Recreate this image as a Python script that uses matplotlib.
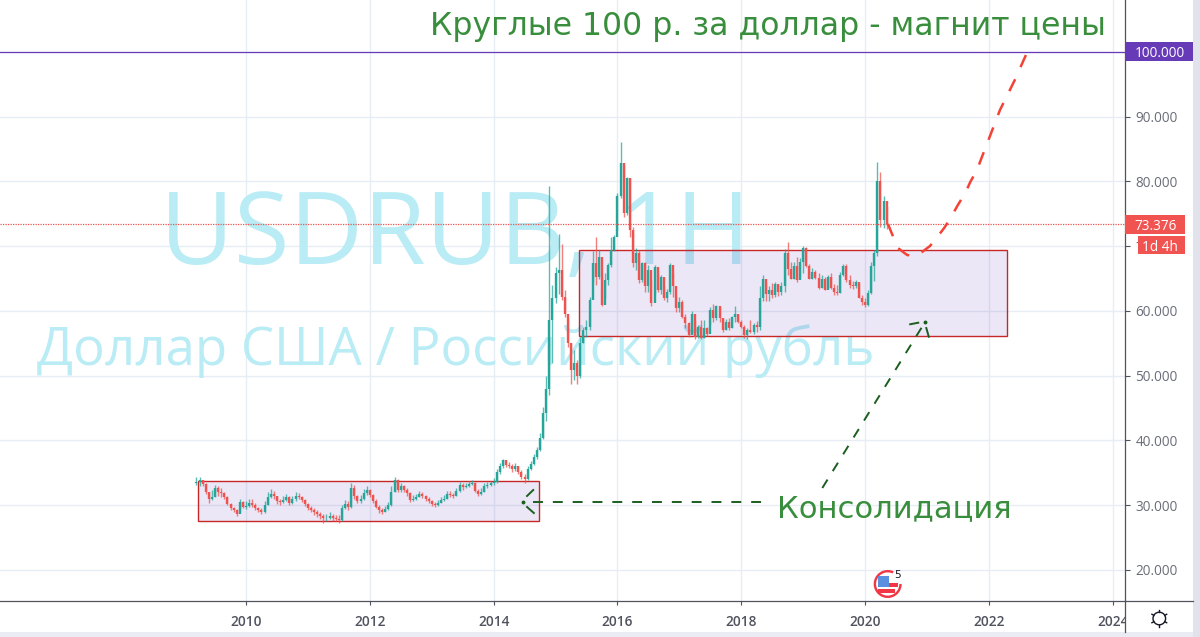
import numpy as np
import matplotlib
matplotlib.use("Agg")
import matplotlib.pyplot as plt
from matplotlib.patches import Rectangle, Circle, Wedge
from matplotlib.lines import Line2D
from matplotlib.transforms import Affine2D, Bbox

# ---------- candles: one close/high/low per period, by calendar year ----------
start_year = 2009.2
period = 0.05
first_open = 33.4
closes = [
 33.6,33.9,33.3,32.0,31.0,31.3,32.6,32.1,31.9,31.3,30.2,29.5,29.2,28.7,30.5,29.8,
 29.9,30.4,30.1,29.6,29.3,29.0,30.1,31.3,31.8,31.4,30.6,30.5,30.8,31.3,30.4,30.9,31.5,31.2,30.8,30.2,
 29.6,29.3,28.9,28.6,28.4,28.0,28.1,28.3,28.0,27.9,27.7,29.6,30.2,29.8,32.6,31.4,30.6,31.0,31.9,32.3,
 31.6,30.6,29.8,29.2,29.0,29.4,30.0,32.1,33.9,32.4,32.9,32.4,31.9,30.8,31.0,31.3,31.8,31.4,31.0,30.6,
 30.2,30.0,30.4,30.8,31.0,31.8,31.6,31.5,32.2,33.1,32.8,33.0,33.3,33.4,32.2,31.8,32.1,32.9,33.1,33.4,
 33.6,35.1,36.0,37.0,36.2,36.0,35.6,36.0,35.2,34.3,34.0,35.6,36.4,37.4,38.6,40.4,44.2,48.0,58.6,62.0,
 65.8,66.3,62.2,59.6,55.0,50.9,52.0,49.9,55.0,57.1,57.6,61.7,67.4,65.3,68.4,60.9,64.8,67.1,69.4,71.5,
 77.7,82.8,75.1,80.5,72.5,67.4,68.9,64.8,67.4,63.8,66.3,61.2,66.8,63.2,65.3,62.0,63.0,67.1,63.8,60.4,
 61.4,59.1,58.1,56.3,59.6,56.0,57.6,55.8,57.3,56.5,60.2,58.9,60.7,58.9,57.1,58.3,57.3,59.1,59.6,58.3,
 57.6,56.3,57.1,56.8,57.8,57.6,62.0,65.0,62.7,63.3,62.5,64.2,62.9,63.8,69.0,66.5,65.0,67.0,64.8,67.5,
 69.8,67.0,65.0,66.0,65.1,63.6,64.9,63.3,65.2,63.6,63.0,62.8,65.6,67.0,64.8,64.0,63.9,64.4,62.0,61.4,
 61.0,62.8,67.0,69.0,80.0,74.0,77.0,73.376]
highs = [
 34.3,34.4,33.9,33.4,32.0,32.3,33.2,33.0,32.6,32.0,31.4,30.3,29.7,29.4,31.0,30.7,
 30.7,31.0,30.9,30.3,29.8,29.6,30.6,32.0,32.5,32.2,31.5,31.0,31.4,31.8,31.4,31.4,32.1,31.9,31.4,31.0,
 30.4,29.9,29.5,29.2,28.9,28.6,28.6,28.9,28.6,28.5,28.5,30.0,30.8,30.7,33.4,33.2,31.6,31.6,32.5,32.9,
 32.5,31.8,30.9,30.0,29.6,29.9,30.5,32.9,34.3,34.0,33.4,33.1,32.7,32.1,31.6,31.8,32.2,32.0,31.6,31.2,
 30.8,30.5,30.8,31.2,31.6,32.2,32.2,31.9,32.7,33.6,33.5,33.5,33.7,33.9,33.6,32.5,32.6,33.4,33.6,33.8,
 34.2,35.6,36.6,37.2,37.0,36.7,36.3,36.6,36.1,35.4,34.8,36.0,36.8,37.9,39.0,41.2,45.2,50.0,79.3,64.0,
 66.8,71.9,70.4,63.2,58.9,55.0,54.0,52.4,56.0,57.6,58.6,62.2,69.2,71.4,69.4,65.3,65.8,67.4,71.5,71.7,
 78.2,86.1,82.5,80.7,80.6,73.0,69.7,69.4,67.6,67.6,67.1,65.0,67.1,65.8,65.5,63.8,63.4,67.4,65.8,62.5,
 62.2,61.7,59.6,58.3,60.0,58.6,57.8,58.6,58.6,57.6,60.6,61.1,61.0,60.4,58.9,58.7,58.9,59.3,60.7,59.6,
 58.6,57.8,57.3,58.6,58.1,58.4,63.8,65.5,64.4,63.8,64.3,64.5,64.0,64.5,69.5,70.7,67.5,67.5,68.4,68.2,
 70.0,69.9,67.2,66.6,66.4,65.8,65.5,65.2,65.6,65.8,64.2,64.0,66.0,67.2,67.2,65.6,64.6,64.8,64.2,62.5,
 62.0,63.2,67.6,69.4,83.0,81.5,77.7,76.0]
lows = [
 33.1,33.0,33.0,31.7,30.4,30.8,31.2,31.5,31.2,30.9,30.0,29.3,28.9,28.3,28.9,29.5,
 29.4,29.7,29.8,29.3,28.9,28.6,28.8,30.0,31.1,31.0,30.2,30.1,30.3,30.7,30.1,30.2,30.7,30.9,30.5,29.9,
 29.3,28.9,28.5,28.2,27.9,27.3,27.6,27.8,27.6,27.5,27.2,27.6,29.4,29.3,29.6,31.0,30.3,30.4,30.8,31.6,
 31.2,30.3,29.5,28.8,28.6,28.9,29.3,29.9,32.0,32.1,32.1,32.0,31.5,30.5,30.6,30.8,31.2,31.1,30.6,30.3,
 29.9,29.7,29.9,30.3,30.6,30.9,31.2,31.1,31.4,32.1,32.4,32.6,32.8,33.1,32.0,31.5,31.6,32.0,32.6,32.9,
 33.2,33.4,34.9,35.8,35.9,35.7,35.2,35.3,34.9,34.1,33.5,33.9,35.4,36.2,37.2,38.4,40.2,43.0,47.0,52.0,
 61.2,62.7,61.7,59.1,54.5,48.8,49.4,48.8,49.6,55.0,56.0,57.1,64.3,64.0,65.0,60.7,62.0,64.0,66.8,69.2,
 72.5,77.4,74.5,74.8,71.5,66.8,66.3,64.3,64.5,63.0,63.0,60.8,62.7,63.0,62.7,61.7,61.4,62.7,62.2,59.9,
 59.9,58.9,57.3,56.0,56.5,55.6,55.8,55.6,55.8,56.1,57.8,58.3,58.6,58.3,56.8,57.0,57.1,57.3,58.3,58.1,
 57.3,55.8,55.6,56.6,56.5,56.8,57.0,61.5,61.5,61.6,62.0,62.2,62.3,62.5,63.0,65.5,65.0,64.9,64.5,65.2,
 65.8,66.8,64.9,64.9,64.9,63.4,63.5,63.2,63.5,63.4,62.5,62.4,62.8,65.4,64.5,63.6,63.4,63.5,62.0,60.9,
 60.6,60.8,62.7,64.6,68.5,73.0,72.8,72.6]

year_ticks = [2010, 2012, 2014, 2016, 2018, 2020, 2022, 2024]
price_ticks = [20, 30, 40, 50, 60, 70, 80, 90, 100]
last_price = 73.376
level_price = 100.0

box1_years = [2009.22, 2014.73]
box1_prices = [27.57, 33.75]
box2_years = [2015.38, 2022.29]
box2_prices = [56.14, 69.42]

forecast_years = [2020.37,2020.45,2020.53,2020.68,2020.79,2020.90,2021.05,2021.18,2021.29,
                  2021.41,2021.50,2021.62,2021.70,2021.81,2021.87,2022.18,2022.42,2022.65]
forecast_prices = [73.44,71.58,69.73,68.65,68.49,68.96,70.04,71.58,72.97,
                   74.83,76.37,78.22,79.92,81.78,83.32,91.04,95.68,100.62]

arrow1_years = [2014.64, 2018.45]
arrow1_prices = [30.55, 30.55]
arrow1_barbs = [([2014.54, 2014.64], [31.43, 32.35]), ([2014.54, 2014.65], [29.73, 28.80])]
arrow1_tip = (2014.47, 30.55)
arrow2_years = [2019.31, 2020.97]
arrow2_prices = [32.66, 58.30]
arrow2_barbs = [([2020.73, 2020.86], [57.95, 58.19]), ([2020.99, 2021.03], [57.37, 56.03])]
arrow2_tip = (2020.97, 58.30)

# ---------- styles ----------
UP, DOWN = "#26a69a", "#ef5350"
GRID = "#e6edf5"
AXIS = "#50535e"
WATER = "#b9ecf4"
GREEN = "#388e3c"
DGREEN = "#1b5e20"
PURPLE = "#673ab7"
W, H = 1200, 637

plt.rcParams["font.family"] = ["DejaVu Sans"]
fig = plt.figure(figsize=(12, 6.37), dpi=100, facecolor="white")
ax = fig.add_axes([0, (H - 601) / H, 1125 / W, 601 / H])
ax.set_xlim(2006.026, 2024.2)
ax.set_ylim(15.21, 108.03)
pix = Affine2D().scale(1, -1).translate(0, H)

for s in ("top", "left"):
    ax.spines[s].set_visible(False)
for s in ("right", "bottom"):
    ax.spines[s].set_color(AXIS)
    ax.spines[s].set_linewidth(0.9)

ax.set_axisbelow(True)
ax.grid(True, color=GRID, lw=1.0)
ax.yaxis.tick_right()
ax.set_xticks(year_ticks, [str(y) for y in year_ticks])
ax.set_yticks(price_ticks, [f"{p:.3f}" for p in price_ticks])
ax.tick_params(axis="x", length=3, width=0.8, color=AXIS, labelcolor="#50535e", labelsize=9.8, pad=7)
ax.tick_params(axis="y", length=3.6, width=0.8, color=AXIS, labelcolor="#6a6d78", labelsize=9.8, pad=4)
for lab in ax.get_xticklabels():
    lab.set_family("Open Sans")
    lab.set_fontweight("semibold")
    lab.set_clip_on(True)
    lab.set_clip_box(Bbox([[0, 0], [1125, H]]))
for lab in ax.get_yticklabels():
    lab.set_family("Open Sans")

# watermark
ax.text(455, 238, "USDRUB, 1H", transform=pix, fontsize=73, color=WATER, ha="center", va="center",
        family="Open Sans", zorder=0.6)
ax.text(456, 351, "Доллар США / Российский рубль", transform=pix, fontsize=38, color=WATER, ha="center",
        va="center", family="Open Sans", zorder=0.6)

# rectangles
for yrs, prc in ((box1_years, box1_prices), (box2_years, box2_prices)):
    ax.add_patch(Rectangle((yrs[0], prc[0]), yrs[1] - yrs[0], prc[1] - prc[0],
                           facecolor=(103 / 255, 58 / 255, 183 / 255, 0.12),
                           edgecolor="#c62828", lw=1.0, zorder=1))

# candles
c = np.array(closes)
o = np.r_[first_open, c[:-1]]
hi = np.array(highs)
lo = np.array(lows)
t = start_year + period * np.arange(len(c))
cols = [UP if b >= a else DOWN for a, b in zip(o, c)]
ax.vlines(t, lo, hi, colors=cols, lw=1.0, alpha=0.75, zorder=2)
ax.vlines(t, np.minimum(o, c), np.maximum(o, c), colors=cols, lw=1.7, zorder=2.1)

# level lines
ax.axhline(level_price, color=PURPLE, lw=0.9, zorder=2.5)
ax.axhline(last_price, color=DOWN, lw=0.9, ls=(0, (1, 1)), zorder=2.5)

# drawn forecast and arrows
ax.plot(forecast_years, forecast_prices, color="#f44336", lw=1.8, ls=(0, (5.3, 5.3)), zorder=3)
ax.plot(arrow1_years, arrow1_prices, color=DGREEN, lw=1.4, ls=(0, (5.1, 5.1)), zorder=3)
ax.plot(arrow2_years, arrow2_prices, color=DGREEN, lw=1.4, ls=(0, (5.1, 5.1)), zorder=3)
for bx, by in arrow1_barbs + arrow2_barbs:
    ax.plot(bx, by, color=DGREEN, lw=1.4, zorder=3)
for tip in (arrow1_tip, arrow2_tip):
    ax.plot([tip[0]], [tip[1]], "o", ms=1.8, color=DGREEN, zorder=3)

# annotations
fig.text(1106 / W, 1 - 27 / H, "Круглые 100 р. за доллар - магнит цены", ha="right", va="center", fontsize=22.7, color=GREEN)
fig.text(1012 / W, 1 - 509 / H, "Консолидация", ha="right", va="center", fontsize=22.1, color=GREEN)

# price labels on the scale
ytr = ax.get_yaxis_transform()
def price_box(price, x0, width, text_center, color, label, px_h=19, dy_px=0):
    unit = 92.82 / 601
    p = price - dy_px * unit
    ax.add_patch(Rectangle((x0, p - px_h * unit / 2), width, px_h * unit, transform=ytr,
                           facecolor=color, edgecolor="none", clip_on=False, zorder=20))
    ax.text(text_center, p, label, transform=ytr, color="white", fontsize=9.8, family="Open Sans", ha="center",
            va="center_baseline", clip_on=False, zorder=21)
price_box(level_price, 1.0, 68 / 1125, 1 + 34.5 / 1125, PURPLE, "100.000", px_h=19)
price_box(last_price, 1.0, 60 / 1125, 1 + 30.5 / 1125, "#f05350", "73.376", px_h=19)
price_box(last_price, 1 + 13 / 1125, 47 / 1125, 1 + 34.5 / 1125, "#f05350", "1d 4h", px_h=18, dy_px=21)

# frame extras
fig.add_artist(Line2D([1125 / W, 1125 / W], [1 - 601 / H, 1 - 632 / H], color=AXIS, lw=0.9))
fig.add_artist(Line2D([1125 / W, 1193 / W], [1 - 601 / H, 1 - 601 / H], color=AXIS, lw=0.9))
fig.add_artist(Rectangle((1193 / W, 0), 7 / W, 1, transform=fig.transFigure, facecolor="#e0e3eb", edgecolor="none"))
fig.add_artist(Rectangle((0, 0), 1193 / W, 5 / H, transform=fig.transFigure, facecolor="#e9ecf2", edgecolor="none"))

# gear
gx, gy = 1159.3, 618.5
fig.add_artist(Circle((gx, gy), 6.3, transform=pix, facecolor="none", edgecolor="#131722", lw=1.0))
for dx, dy in ((0, 1), (0, -1), (0.87, 0.5), (-0.87, 0.5), (0.87, -0.5), (-0.87, -0.5)):
    fig.add_artist(Line2D([gx + 6.3 * dx, gx + 8.5 * dx], [gy + 6.3 * dy, gy + 8.5 * dy], transform=pix, color="#131722", lw=1.0))

# event flag badge
fx, fy = 887.7, 584.0
ICON = "#f23645"
fig.add_artist(Wedge((fx, fy), 14, 0, 295, width=2.4, transform=pix, facecolor=ICON, edgecolor="none"))
fig.add_artist(Rectangle((878, 576), 11, 11, transform=pix, facecolor="#5b8fe0", edgecolor="none"))
fig.add_artist(Rectangle((889, 583), 9, 4, transform=pix, facecolor=ICON, edgecolor="none"))
fig.add_artist(Rectangle((878, 589), 17, 4, transform=pix, facecolor=ICON, edgecolor="none"))
fig.text(897.5 / W, 1 - 575.5 / H, "5", fontsize=7.5, color="#131722", ha="center", va="center")

fig.savefig("out.png", dpi=100)
